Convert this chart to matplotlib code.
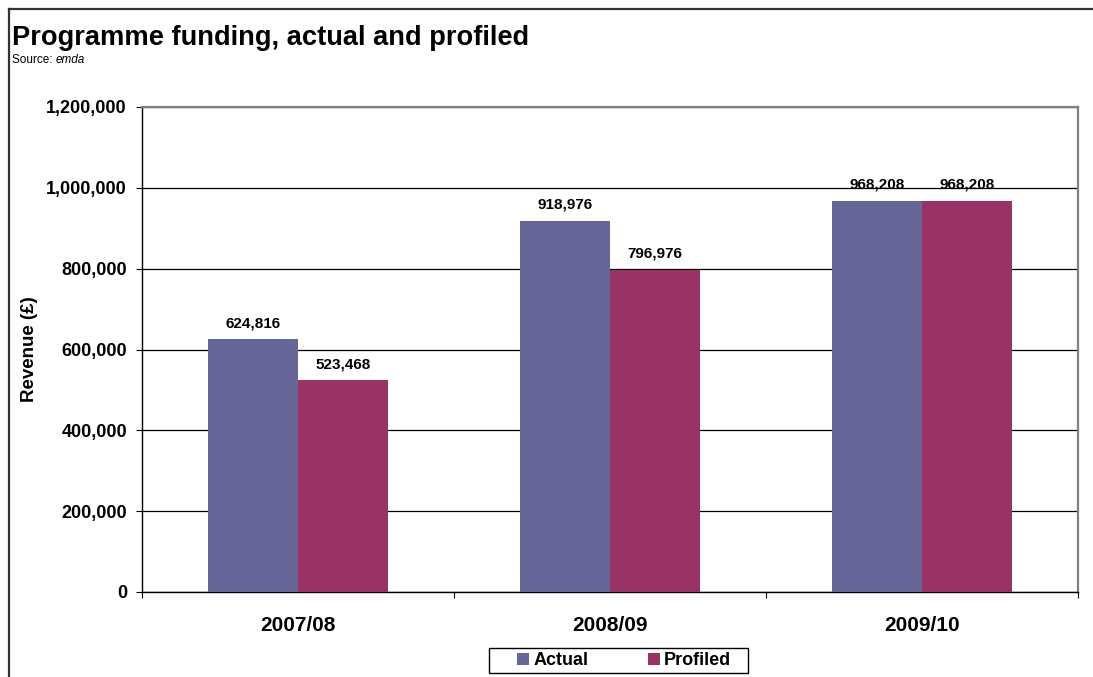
import matplotlib
matplotlib.use("Agg")
import matplotlib.pyplot as plt
from matplotlib.lines import Line2D
from matplotlib.patches import Rectangle
from matplotlib.ticker import FuncFormatter, FixedLocator
import numpy as np

# Data
years = ["2007/08", "2008/09", "2009/10"]
actual = [624816, 918976, 968208]
profiled = [523468, 796976, 968208]
series_names = ["Actual", "Profiled"]
y_ticks = [0, 200000, 400000, 600000, 800000, 1000000, 1200000]

COL_ACTUAL = "#666699"
COL_PROFILED = "#993366"

plt.rcParams["font.family"] = ["Liberation Sans", "DejaVu Sans"]

W, H = 1093, 677
fig = plt.figure(figsize=(W / 100, H / 100), dpi=100)

# Outer frame (left and top edges)
fig.add_artist(Line2D([9 / W, 9 / W], [0, 1 - 9 / H], color="#333333", lw=1.6,
                      transform=fig.transFigure))
fig.add_artist(Line2D([9 / W, 1], [1 - 9 / H, 1 - 9 / H], color="#333333", lw=1.6,
                      transform=fig.transFigure))

# Title and source line
fig.text(12 / W, 1 - 45 / H, "Programme funding, actual and profiled",
         fontsize=19.6, fontweight="bold", va="baseline", ha="left")
src = fig.text(12 / W, 1 - 63 / H, "Source: ", fontsize=8.5, va="baseline", ha="left")
renderer = fig.canvas.get_renderer()
bb = src.get_window_extent(renderer=renderer)
fig.text(bb.x1 / W, 1 - 63 / H, "emda", fontsize=8.5, style="italic",
         va="baseline", ha="left")

ax = fig.add_axes([142 / W, 85 / H, 936 / W, 485 / H])

x = np.arange(len(years))
w = 0.2885
b1 = ax.bar(x - w / 2, actual, width=w, color=COL_ACTUAL, label=series_names[0], zorder=3)
b2 = ax.bar(x + w / 2, profiled, width=w, color=COL_PROFILED, label=series_names[1], zorder=3)

fmt = lambda v: f"{v:,.0f}"
for bars, vals in ((b1, actual), (b2, profiled)):
    for rect, v in zip(bars, vals):
        ax.annotate(fmt(v), (rect.get_x() + rect.get_width() / 2, v),
                    xytext=(0, 6.5), textcoords="offset points",
                    ha="center", va="bottom", fontsize=11, fontweight="bold", zorder=5)

ax.set_xlim(-0.5, len(years) - 0.5)
ax.set_ylim(0, 1200000)
ax.set_yticks(y_ticks)
ax.yaxis.set_major_formatter(FuncFormatter(lambda v, p: f"{v:,.0f}"))
ax.grid(axis="y", color="black", lw=0.9, zorder=1)
ax.set_axisbelow(True)

ax.set_xticks(x)
ax.set_xticklabels(years, fontsize=15, fontweight="bold")
ax.xaxis.set_minor_locator(FixedLocator(np.arange(-0.5, len(years), 1.0)))
ax.tick_params(axis="x", which="major", length=0, pad=17)
ax.tick_params(axis="x", which="minor", length=6 * 0.72, width=0.8, direction="out")
ax.tick_params(axis="y", length=6 * 0.72, width=0.8, direction="out", pad=6.5,
               labelsize=13)
for lab in ax.get_yticklabels():
    lab.set_fontweight("bold")

for s in ("left", "bottom"):
    ax.spines[s].set_color("black")
    ax.spines[s].set_linewidth(1.0)
for s in ("top", "right"):
    ax.spines[s].set_color("#808080")
    ax.spines[s].set_linewidth(1.6)

fig.text(30 / W, 1 - 349 / H, "Revenue (£)", rotation=90, fontsize=13.5,
         fontweight="bold", ha="center", va="center")

# Legend with its own wide box
fig.add_artist(Rectangle((489 / W, 1 - 673 / H), 259 / W, 25 / H, fill=False,
                         edgecolor="black", lw=1.0, transform=fig.transFigure))
leg = fig.legend(handles=[b1, b2], labels=series_names, loc="center left",
                 bbox_to_anchor=(517 / W, 1 - 660.5 / H), ncol=2,
                 frameon=False, prop={"size": 13, "weight": "bold"},
                 handlelength=0.67, handleheight=0.67, handletextpad=0.22,
                 columnspacing=3.3, borderpad=0, borderaxespad=0)

fig.savefig("out.png", dpi=100)
